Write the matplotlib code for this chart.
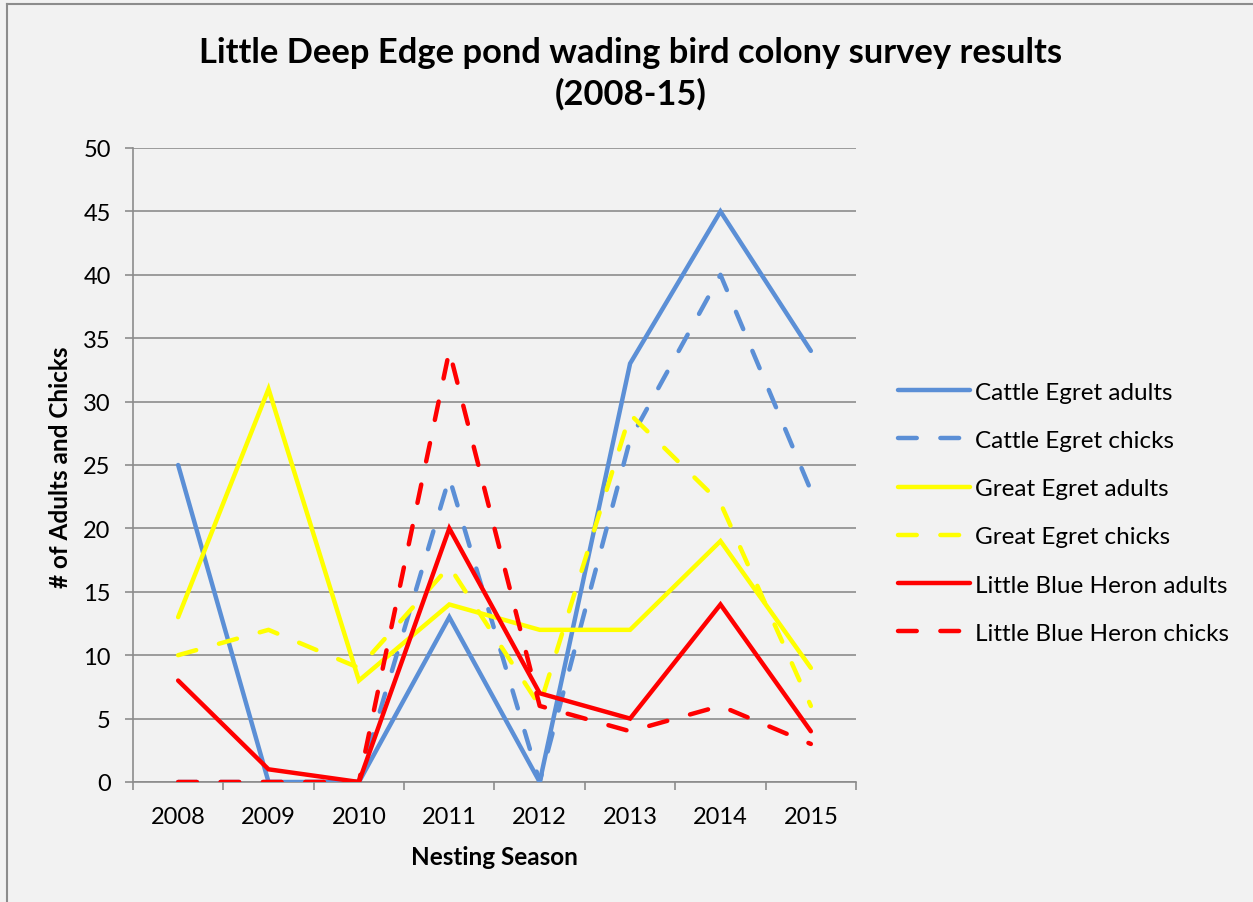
import matplotlib
matplotlib.use("Agg")
import matplotlib.pyplot as plt
from matplotlib.lines import Line2D

plt.rcParams['font.family'] = ['Lato', 'DejaVu Sans']
plt.rcParams['lines.scale_dashes'] = False

seasons = ['2008', '2009', '2010', '2011', '2012', '2013', '2014', '2015']

cattle_adults = [25, 0, 0, 13, 0, 33, 45, 34]
cattle_chicks = [0, 0, 0, 24, 0, 27, 40, 23]
great_adults = [13, 31, 8, 14, 12, 12, 19, 9]
great_chicks = [10, 12, 9, 17, 6, 29, 22, 6]
lbh_adults = [8, 1, 0, 20, 7, 5, 14, 4]
lbh_chicks = [0, 0, 0, 34, 6, 4, 6, 3]

series = [
    ('Cattle Egret adults', cattle_adults, '#5B8FD6', '-'),
    ('Cattle Egret chicks', cattle_chicks, '#5B8FD6', '--'),
    ('Great Egret adults', great_adults, '#FFFF00', '-'),
    ('Great Egret chicks', great_chicks, '#FFFF00', '--'),
    ('Little Blue Heron adults', lbh_adults, '#FF0000', '-'),
    ('Little Blue Heron chicks', lbh_chicks, '#FF0000', '--'),
]

bg = '#F2F2F2'
grid_col = '#8C8C8C'
dash = (0, (13.5, 17.0))
lw = 3.2

fig = plt.figure(figsize=(12.53, 9.03), dpi=100, facecolor=bg)
ax = fig.add_axes([0.1061, 0.1329, 0.5771, 0.7021], facecolor=bg)

x = list(range(len(seasons)))
for label, vals, col, ls in series:
    ax.plot(x, vals, color=col, lw=lw,
            linestyle=dash if ls == '--' else '-',
            solid_capstyle='round', dash_capstyle='round',
            solid_joinstyle='miter', label=label, zorder=3)

ax.set_xlim(-0.5, len(seasons) - 0.5)
ax.set_ylim(0, 50)
ax.set_yticks(range(0, 51, 5))
ax.set_xticks(x)
ax.set_xticklabels(seasons)
ax.set_xticks([i - 0.5 for i in range(len(seasons) + 1)], minor=True)

ax.yaxis.grid(True, color=grid_col, lw=1.2)
ax.set_axisbelow(True)
for side in ['top', 'right']:
    ax.spines[side].set_visible(False)
for side in ['left', 'bottom']:
    ax.spines[side].set_color(grid_col)
    ax.spines[side].set_linewidth(1.2)

ax.tick_params(axis='y', length=6, width=1.2, color=grid_col, labelsize=17, pad=10)
ax.tick_params(axis='x', which='major', length=0, labelsize=17, pad=17)
ax.tick_params(axis='x', which='minor', length=6, width=1.2, color=grid_col)

# axis titles
fig.text(494 / 1253, 1 - 858 / 903, 'Nesting Season', ha='center', va='center',
         fontsize=17.5, fontweight='bold')
fig.text(60 / 1253, 1 - 467 / 903, '# of Adults and Chicks', ha='center', va='center',
         rotation=90, fontsize=17.5, fontweight='bold')

fig.text(0.503, 1 - 73.5 / 903, 'Little Deep Edge pond wading bird colony survey results\n(2008-15)',
         ha='center', va='center', fontsize=24.8, fontweight='bold', linespacing=1.33)

handles = [Line2D([], [], color=c, lw=lw, linestyle=dash if ls == '--' else '-',
                  solid_capstyle='round', dash_capstyle='round')
           for _, _, c, ls in series]
fig.legend(handles, [s[0] for s in series], loc='center left',
           bbox_to_anchor=(0.7071, 0.431), frameon=False, fontsize=17.5,
           handlelength=2.95, handletextpad=0.22, labelspacing=1.12, borderpad=0)

# outer frame, top and left edges only
fig.add_artist(Line2D([0.0056, 0.0056], [0, 0.9945], color='#8C8C8C', lw=1.5,
                      transform=fig.transFigure))
fig.add_artist(Line2D([0.0056, 1.0], [0.9945, 0.9945], color='#8C8C8C', lw=1.5,
                      transform=fig.transFigure))

fig.savefig('out.png', dpi=100, facecolor=bg)
